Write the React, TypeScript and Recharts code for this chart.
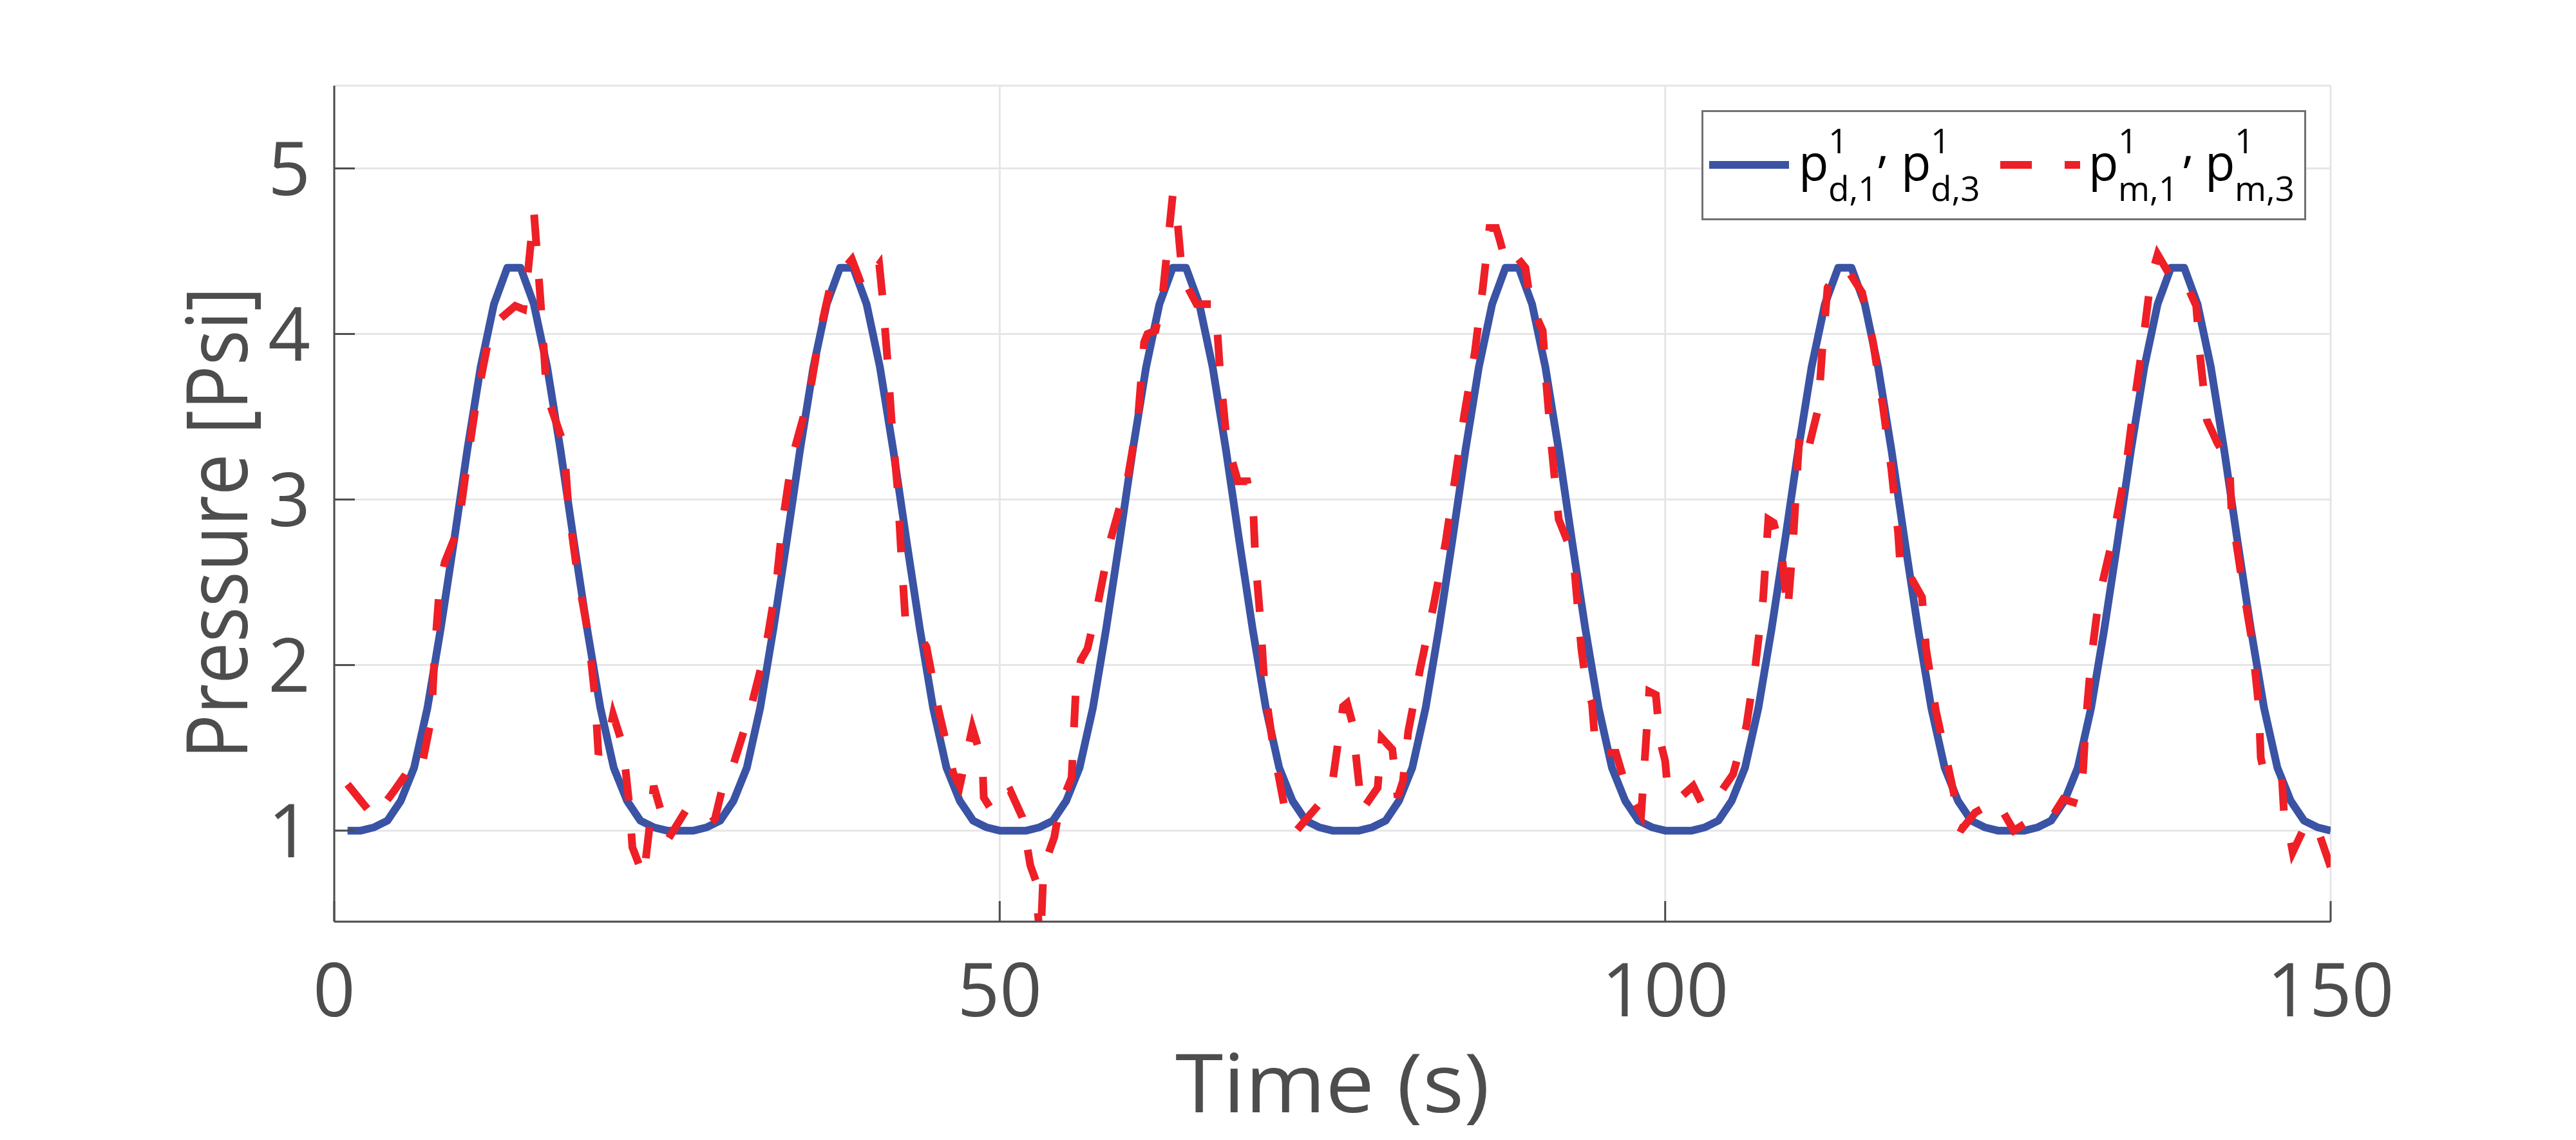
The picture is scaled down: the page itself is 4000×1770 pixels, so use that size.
import { LineChart, Line, XAxis, YAxis, CartesianGrid, Legend } from 'recharts'

const FONT = "'Open Sans', 'Noto Sans', sans-serif"
const AXIS = '#4d4d4d'
const GRID = '#e6e6e6'
const BLUE = '#3a53a4'
const RED = '#ee1f26'

const xTicks = [0, 50, 100, 150]
const yTicks = [1, 2, 3, 4, 5]

// desired pressure p_d, one sample per second starting at t = 1 s
const desiredPressure = [
  1.0, 1.0, 1.02, 1.06, 1.18, 1.38, 1.74, 2.22, 2.75, 3.3, 3.8, 4.18, 4.4, 4.4, 4.18, 3.8, 3.3, 2.75, 2.22, 1.74, 1.38, 1.18, 1.06, 1.02, 1.0,
  1.0, 1.0, 1.02, 1.06, 1.18, 1.38, 1.74, 2.22, 2.75, 3.3, 3.8, 4.18, 4.4, 4.4, 4.18, 3.8, 3.3, 2.75, 2.22, 1.74, 1.38, 1.18, 1.06, 1.02, 1.0,
  1.0, 1.0, 1.02, 1.06, 1.18, 1.38, 1.74, 2.22, 2.75, 3.3, 3.8, 4.18, 4.4, 4.4, 4.18, 3.8, 3.3, 2.75, 2.22, 1.74, 1.38, 1.18, 1.06, 1.02, 1.0,
  1.0, 1.0, 1.02, 1.06, 1.18, 1.38, 1.74, 2.22, 2.75, 3.3, 3.8, 4.18, 4.4, 4.4, 4.18, 3.8, 3.3, 2.75, 2.22, 1.74, 1.38, 1.18, 1.06, 1.02, 1.0,
  1.0, 1.0, 1.02, 1.06, 1.18, 1.38, 1.74, 2.22, 2.75, 3.3, 3.8, 4.18, 4.4, 4.4, 4.18, 3.8, 3.3, 2.75, 2.22, 1.74, 1.38, 1.18, 1.06, 1.02, 1.0,
  1.0, 1.0, 1.02, 1.06, 1.18, 1.38, 1.74, 2.22, 2.75, 3.3, 3.8, 4.18, 4.4, 4.4, 4.18, 3.8, 3.3, 2.75, 2.22, 1.74, 1.38, 1.18, 1.06, 1.02, 1.0,
]

const measuredTime = [
  1.0, 2.0, 3.0, 4.5, 5.2, 5.9, 6.6, 7.3, 7.55, 7.9, 8.3, 9.3, 9.95, 10.65, 11.6, 12.3, 13.6, 14.2, 14.5, 15.0,
  15.3, 15.6, 15.9, 16.1, 17.26, 17.6, 18.25, 19.1, 19.6, 19.85, 20.75, 20.95, 21.7, 22.2, 22.4, 23.25, 23.8, 24.0, 24.9, 25.1,
  26.4, 27.2, 28.0, 28.6, 29.2, 29.8, 31.2, 32.4, 33.2, 33.7, 34.4, 35.7, 36.5, 37.3, 38.9, 39.7, 40.95, 41.2, 41.57, 41.9,
  42.32, 42.6, 42.9, 43.6, 44.5, 45.4, 46.5, 47.0, 47.95, 48.7, 48.8, 49.5, 49.8, 50.3, 50.8, 51.7, 52.3, 52.7, 53.05, 53.3,
  54.1, 54.5, 55.4, 55.75, 56.1, 56.6, 57.4, 58.3, 59.6, 60.4, 60.85, 61.1, 61.7, 62.2, 62.7, 63.0, 63.2, 63.6, 64.0, 64.8,
  66.0, 66.3, 66.55, 67.0, 67.4, 67.9, 68.6, 69.05, 69.2, 69.6, 69.9, 70.6, 71.5, 72.0, 72.3, 74.0, 75.0, 75.8, 76.1, 76.5,
  77.0, 77.2, 78.4, 78.7, 79.5, 79.9, 80.3, 80.7, 81.6, 82.6, 83.5, 84.2, 84.9, 85.7, 86.3, 86.8, 87.3, 87.6, 88.1, 88.9,
  89.5, 89.9, 90.8, 91.06, 91.45, 92.0, 92.8, 93.2, 93.7, 94.1, 94.5, 94.8, 96.3, 97.0, 98.2, 98.8, 99.3, 99.6, 100.0, 100.2,
  101.0, 102.1, 102.9, 103.8, 105.1, 106.1, 106.8, 107.36, 107.75, 108.15, 108.75, 109.2, 109.6, 109.9, 110.1, 110.6, 110.8, 111.5, 111.8, 112.2,
  112.8, 113.6, 114.8, 115.6, 116.35, 117.0, 117.5, 117.75, 118.6, 119.3, 119.6, 120.35, 121.36, 121.7, 121.8, 122.3, 123.3, 124.9, 126.2, 128.0,
  129.2, 129.9, 131.1, 131.4, 131.6, 132.0, 132.6, 133.7, 134.6, 135.2, 135.9, 136.5, 137.0, 138.1, 139.0, 139.9, 140.2, 140.7, 141.5, 142.4,
  142.55, 143.3, 144.1, 144.6, 144.75, 144.95, 146.3, 146.5, 146.9, 147.15, 148.2, 148.5, 149.1, 150.0,
]
const measuredPressure = [
  1.28, 1.18, 1.08, 1.24, 1.32, 1.29, 1.4, 1.68, 2.08, 2.46, 2.62, 2.82, 3.2, 3.58, 3.97, 4.08, 4.17, 4.15, 4.33, 4.74,
  4.42, 4.09, 3.72, 3.6, 3.33, 2.95, 2.56, 2.18, 1.8, 1.46, 1.62, 1.7, 1.51, 1.13, 0.9, 0.72, 1.1, 1.27, 1.02, 0.95,
  1.12, 1.09, 1.03, 1.07, 1.27, 1.35, 1.71, 2.09, 2.48, 2.87, 3.25, 3.63, 4.01, 4.3, 4.45, 4.28, 4.42, 4.22, 3.84, 3.45,
  3.07, 2.67, 2.29, 2.23, 2.11, 1.73, 1.35, 1.27, 1.62, 1.42, 1.2, 1.11, 1.14, 1.22, 1.24, 1.08, 0.79, 0.7, 0.3, 0.78,
  0.96, 1.14, 1.32, 1.9, 2.03, 2.1, 2.38, 2.75, 3.12, 3.5, 3.95, 4.0, 4.02, 4.2, 4.6, 4.84, 4.82, 4.46, 4.3, 4.18,
  4.18, 4.08, 3.78, 3.4, 3.25, 3.11, 3.11, 2.94, 2.65, 2.26, 1.87, 1.48, 1.1, 1.01, 1.0, 1.16, 1.29, 1.75, 1.77, 1.65,
  1.28, 1.12, 1.26, 1.56, 1.49, 1.2, 1.3, 1.6, 1.98, 2.36, 2.74, 3.12, 3.51, 3.89, 4.28, 4.64, 4.64, 4.56, 4.41, 4.46,
  4.4, 4.18, 4.02, 3.71, 3.33, 2.88, 2.72, 2.56, 2.1, 1.86, 1.77, 1.47, 1.47, 1.28, 1.1, 1.84, 1.82, 1.55, 1.42, 1.24,
  1.19, 1.27, 1.14, 1.19, 1.34, 1.63, 2.01, 2.4, 2.88, 2.86, 2.68, 2.32, 2.73, 3.14, 3.4, 3.42, 3.32, 3.55, 3.9, 4.28,
  4.36, 4.4, 4.25, 3.96, 3.57, 3.18, 2.8, 2.5, 2.51, 2.41, 2.1, 1.72, 1.35, 1.22, 1.03, 1.01, 1.11, 1.18, 1.0, 1.09,
  1.1, 1.19, 1.16, 1.36, 1.65, 2.03, 2.41, 2.79, 3.18, 3.56, 3.95, 4.34, 4.48, 4.33, 4.33, 4.17, 3.86, 3.48, 3.34, 3.22,
  2.93, 2.53, 2.14, 1.75, 1.44, 1.37, 1.37, 1.1, 0.98, 0.87, 1.05, 1.05, 0.99, 0.78,
]

const desiredData = desiredPressure.map((v, i) => ({ t: i + 1, v }))
const measuredData = measuredTime.map((t, i) => ({ t, v: measuredPressure[i] }))

const TICK_LEN = 32

function LeftTick({ x, y, payload }: any) {
  return (
    <g>
      <line x1={x} y1={y} x2={x + TICK_LEN} y2={y} stroke={AXIS} strokeWidth={3} />
      <text x={x - 37} y={y + 41} textAnchor="end" fontSize={115} fill={AXIS} fontFamily={FONT}>
        {payload.value}
      </text>
    </g>
  )
}

function BottomTick({ x, y, payload }: any) {
  return (
    <g>
      <line x1={x} y1={y} x2={x} y2={y - TICK_LEN} stroke={AXIS} strokeWidth={3} />
      <text x={x} y={y + 147} textAnchor="middle" fontSize={115} fill={AXIS} fontFamily={FONT}>
        {payload.value}
      </text>
    </g>
  )
}

function TopTick({ x, y }: any) {
  return <line x1={x} y1={y} x2={x} y2={y + TICK_LEN} stroke={AXIS} strokeWidth={3} />
}

function RightTick({ x, y }: any) {
  return <line x1={x} y1={y} x2={x - TICK_LEN} y2={y} stroke={AXIS} strokeWidth={3} />
}

const yTitle = () => (
  <text
    x={384}
    y={812}
    transform="rotate(-90 384 812)"
    textAnchor="middle"
    fontSize={131}
    fill={AXIS}
    fontFamily={FONT}
    textLength={733}
    lengthAdjust="spacingAndGlyphs"
  >
    Pressure [Psi]
  </text>
)

const xTitle = () => (
  <text
    x={2069}
    y={1727}
    textAnchor="middle"
    fontSize={127}
    fill={AXIS}
    fontFamily={FONT}
    textLength={488}
    lengthAdjust="spacingAndGlyphs"
  >
    Time (s)
  </text>
)

// p with a stacked superscript and subscript
function Sym({ x, sub }: { x: number; sub: string }) {
  return (
    <text fontFamily={FONT} fill="#000">
      <tspan x={x} y={109} fontSize={76}>p</tspan>
      <tspan x={x + 46} y={67} fontSize={53}>1</tspan>
      <tspan x={x + 46} y={141} fontSize={53}>{sub}</tspan>
    </text>
  )
}

function Comma({ x }: { x: number }) {
  return (
    <text x={x} y={126} fontSize={76} fontFamily={FONT} fill="#000">
      ’
    </text>
  )
}

function LegendBox() {
  return (
    <svg width={939} height={171} style={{ display: 'block' }}>
      <rect x={1.5} y={1.5} width={936} height={168} fill="#fff" stroke="#707070" strokeWidth={3} />
      <line x1={12} x2={136} y1={85} y2={85} stroke={BLUE} strokeWidth={12} />
      <Sym x={151} sub="d,1" />
      <Comma x={274} />
      <Sym x={310} sub="d,3" />
      <line x1={464} x2={588} y1={85} y2={85} stroke={RED} strokeWidth={12} strokeDasharray="49 51" />
      <Sym x={601} sub="m,1" />
      <Comma x={748} />
      <Sym x={782} sub="m,3" />
    </svg>
  )
}

export default function App() {
  return (
    <div style={{ position: 'absolute', left: 0, top: 0, width: 4000, height: 1770, background: '#fff' }}>
      <LineChart width={4000} height={1770} margin={{ top: 133, right: 381, bottom: 239, left: 419 }}>
        <CartesianGrid stroke={GRID} strokeWidth={3} />
        <XAxis
          dataKey="t"
          type="number"
          domain={[0, 150]}
          ticks={xTicks}
          allowDataOverflow
          height={100}
          tickSize={0}
          tickMargin={0}
          tickLine={false}
          tick={(p: any) => <BottomTick {...p} />}
          axisLine={{ stroke: AXIS, strokeWidth: 3 }}
          label={xTitle}
        />
        <XAxis
          xAxisId="top"
          orientation="top"
          dataKey="t"
          type="number"
          domain={[0, 150]}
          ticks={xTicks}
          allowDataOverflow
          height={0}
          tickSize={0}
          tickMargin={0}
          tickLine={false}
          tick={(p: any) => <TopTick {...p} />}
          axisLine={{ stroke: AXIS, strokeWidth: 3 }}
        />
        <YAxis
          type="number"
          domain={[0.45, 5.5]}
          ticks={yTicks}
          allowDataOverflow
          width={100}
          tickSize={0}
          tickMargin={0}
          tickLine={false}
          tick={(p: any) => <LeftTick {...p} />}
          axisLine={{ stroke: AXIS, strokeWidth: 3 }}
          label={yTitle}
        />
        <YAxis
          yAxisId="right"
          orientation="right"
          type="number"
          domain={[0.45, 5.5]}
          ticks={yTicks}
          allowDataOverflow
          width={0}
          tickSize={0}
          tickMargin={0}
          tickLine={false}
          tick={(p: any) => <RightTick {...p} />}
          axisLine={{ stroke: AXIS, strokeWidth: 3 }}
        />
        <Line
          data={desiredData}
          dataKey="v"
          type="linear"
          stroke={BLUE}
          strokeWidth={12}
          strokeLinejoin="round"
          dot={false}
          activeDot={false}
          isAnimationActive={false}
        />
        <Line
          data={measuredData}
          dataKey="v"
          type="linear"
          stroke={RED}
          strokeWidth={12}
          strokeDasharray="49 51"
          dot={false}
          activeDot={false}
          isAnimationActive={false}
        />
        <Legend
          layout="vertical"
          align="center"
          verticalAlign="middle"
          wrapperStyle={{ left: 2642, top: 171, width: 939, height: 171 }}
          content={() => <LegendBox />}
        />
      </LineChart>
    </div>
  )
}
